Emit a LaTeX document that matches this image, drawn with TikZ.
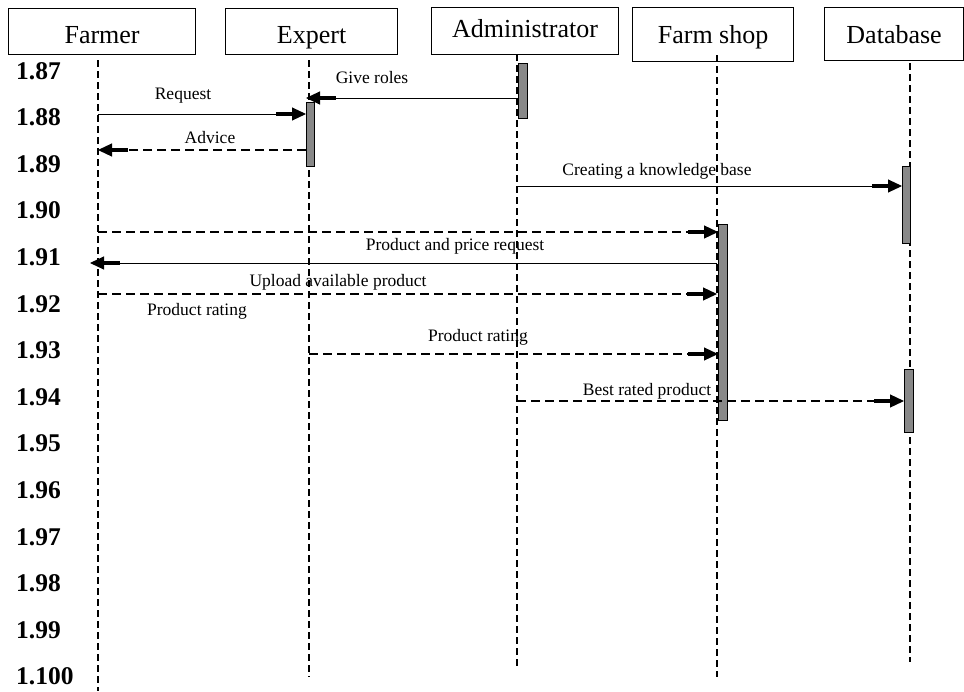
\documentclass[tikz,border=0pt]{standalone}
\usepackage{fontspec}
\setmainfont{Liberation Serif}
\usetikzlibrary{arrows.meta}

\definecolor{barGray}{RGB}{136,136,136}

\tikzset{
  lifebox/.style={draw, line width=1.2pt, inner sep=0pt, anchor=north west,
    font=\fontsize{26}{26}\selectfont},
  lifeline/.style={line width=1.3pt, dash pattern=on 7pt off 4pt},
  actbar/.style={draw, fill=barGray, line width=.8pt, inner sep=0pt, anchor=north west},
  msg/.style={line width=1pt,
    -{Rectangle[length=16pt,width=3.2pt]Triangle[length=14pt,width=13pt]}},
  reply/.style={msg, line width=1.2pt, dash pattern=on 9pt off 5pt},
  msglabel/.style={font=\fontsize{17.5}{17.5}\selectfont, anchor=base, inner sep=0pt},
  rownum/.style={font=\fontsize{25.5}{25.5}\selectfont\bfseries, anchor=base west, inner sep=0pt},
}

\begin{document}
\begin{tikzpicture}[x=1pt,y=-1pt]
  \useasboundingbox (0,0) rectangle (964,691);

  % heads of the lifelines
  \foreach \name/\xl/\w/\yt/\hgt/\dpt/\txt in {
      farmer/8/187/8/35pt/11pt/Farmer,
      expert/225/172/8/35pt/11pt/Expert,
      admin/431/187/7/30pt/17pt/Administrator,
      shop/632/161/7/36pt/18pt/Farm shop,
      db/824/139/7/36pt/17pt/Database}
    \node[lifebox, minimum width=\w pt, text height=\hgt, text depth=\dpt] (\name) at (\xl,\yt) {\txt};

  % lifelines
  \foreach \name/\x/\ya/\yb in {farmer/98/60/691, expert/309/60/677,
      admin/517/54/667, shop/717/55/677, db/910/63/662} {
    \coordinate (\name-top) at (\x,\ya);
    \coordinate (\name-end) at (\x,\yb);
    \draw[lifeline] (\name-top) -- (\name-end);
  }

  % activation bars
  \foreach \name/\xl/\w/\yt/\hh in {adminbar/518/9/63/55, expbar/306/8/102/64,
      dbbarA/902/8/166/77, shopbar/718/9/224/196, dbbarB/904/9/369/63}
    \node[actbar, minimum width=\w pt, minimum height=\hh pt] (\name) at (\xl,\yt) {};

  % rows of the messages
  \foreach \r/\y in {1/98, 2/114, 3/150, 4/186, 5/232, 6/263, 7/294, 8/354, 9/401}
    \coordinate (row\r) at (0,\y);

  \draw[msg] (adminbar.west |- row1) -- (expbar.west |- row1);
  \draw[msg] (farmer-top |- row2) -- (expbar.west |- row2);
  \draw[reply] (expbar.west |- row3) -- (farmer-top |- row3);
  \draw[msg] (admin-top |- row4) -- (dbbarA.west |- row4);
  \draw[reply] (farmer-top |- row5) -- (shopbar.west |- row5);
  \draw[msg, shorten >=-8pt] (shop-top |- row6) -- (farmer-top |- row6);
  \draw[reply] (farmer-top |- row7) -- (shop-top |- row7);
  \draw[reply] (expert-top |- row8) -- (shopbar.west |- row8);
  \draw[reply] (admin-top |- row9) -- (dbbarB.west |- row9);

  \node[msglabel] (lblRoles) at (372,83) {Give roles};
  \node[msglabel] (lblRequest) at (183,99) {Request};
  \node[msglabel] (lblAdvice) at (210,143) {Advice};
  \node[msglabel] (lblKnow) at (657,175) {Creating a knowledge base};
  \node[msglabel] (lblPrice) at (455,250) {Product and price request};
  \node[msglabel] (lblUpload) at (338,286) {Upload available product};
  \node[msglabel] (lblRatingA) at (197,315) {Product rating};
  \node[msglabel] (lblRatingB) at (478,341) {Product rating};
  \node[msglabel] (lblBest) at (647,395) {Best rated product};

  % numbers down the left side
  \foreach \n [count=\i from 0] in {87,...,99,100}
    \node[rownum] (num\n) at (16,{79+46.6*\i}) {1.\n};
\end{tikzpicture}
\end{document}
